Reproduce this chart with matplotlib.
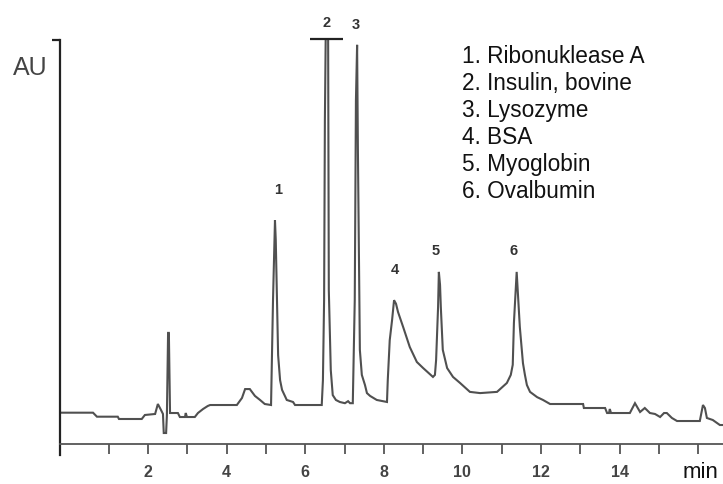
import matplotlib
matplotlib.use("Agg")
import matplotlib.pyplot as plt

# Chromatogram trace: retention time (min) and signal (AU, arbitrary 0-100 scale)
time_min = [-0.24, 0.60, 0.70, 1.23, 1.26, 1.84, 1.92, 2.18, 2.25, 2.33, 2.38, 2.40, 2.46, 2.48,
            2.51, 2.53, 2.56, 2.76, 2.81, 2.94, 2.96, 2.99, 3.19, 3.27, 3.40, 3.52, 3.58, 4.26,
            4.39, 4.47, 4.59, 4.72, 4.85, 4.97, 5.13, 5.18, 5.23, 5.25, 5.28, 5.31, 5.36, 5.41,
            5.53, 5.69, 5.74, 6.42, 6.45, 6.48, 6.50, 6.53, 6.58, 6.60, 6.63, 6.65, 6.70, 6.78,
            6.88, 7.01, 7.09, 7.14, 7.21, 7.26, 7.29, 7.32, 7.34, 7.37, 7.39, 7.44, 7.52, 7.57,
            7.65, 7.82, 8.08, 8.10, 8.15, 8.21, 8.26, 8.31, 8.36, 8.49, 8.66, 8.84, 9.00, 9.25,
            9.30, 9.33, 9.38, 9.40, 9.43, 9.45, 9.50, 9.61, 9.76, 9.94, 10.19, 10.45, 10.88,
            11.13, 11.23, 11.28, 11.31, 11.36, 11.38, 11.41, 11.46, 11.54, 11.59, 11.64, 11.72,
            11.90, 12.05, 12.23, 13.07, 13.09, 13.63, 13.68, 13.73, 13.75, 13.78, 14.26, 14.39,
            14.52, 14.64, 14.77, 14.90, 15.03, 15.13, 15.20, 15.33, 15.46, 16.04, 16.12, 16.17,
            16.22, 16.37, 16.55, 16.63]
signal_au = [7.75, 7.75, 6.76, 6.76, 6.19, 6.19, 7.18, 7.43, 9.90, 8.42, 7.43, 2.72, 2.72, 7.18,
             27.5, 27.5, 7.67, 7.67, 6.68, 6.68, 7.67, 6.68, 6.68, 7.67, 8.66, 9.41, 9.65, 9.65,
             11.39, 13.6, 13.6, 11.9, 10.9, 9.90, 9.65, 35.6, 55.4, 50.5, 35.6, 22.0, 15.8, 13.4,
             10.9, 10.4, 9.65, 9.65, 15.8, 35.6, 80.2, 110.0, 110.0, 38.1, 25.7, 18.3, 12.1, 10.9,
             10.4, 10.1, 10.6, 10.1, 10.1, 35.6, 85.1, 98.8, 72.8, 43.8, 23.3, 17.1, 14.6, 12.6,
             11.9, 10.9, 10.4, 15.8, 25.7, 30.7, 35.6, 34.7, 32.7, 29.0, 24.0, 20.3, 18.8, 16.6,
             17.1, 20.8, 33.9, 42.6, 39.4, 33.9, 23.3, 18.8, 16.6, 15.1, 12.9, 12.6, 12.9,
             15.1, 17.1, 19.6, 30.0, 38.9, 42.6, 37.4, 29.0, 20.0, 17.1, 14.6, 12.9,
             11.6, 10.9, 9.90, 9.90, 8.91, 8.91, 7.67, 7.67, 8.66, 7.67, 7.67, 10.1,
             7.92, 8.91, 7.67, 7.43, 6.68, 7.67, 7.67, 6.44, 5.69, 5.69, 9.65, 8.91,
             6.44, 5.94, 4.70, 4.70]

# Peak annotations
peak_labels = ["1", "2", "3", "4", "5", "6"]
peak_label_t = [5.31, 6.53, 7.29, 8.28, 9.33, 11.31]
peak_label_v = [62.9, 104.2, 103.7, 43.1, 47.8, 47.8]
offscale_peak_t = 6.53      # peak 2 runs off scale

legend_entries = ["1. Ribonuklease A", "2. Insulin, bovine", "3. Lysozyme",
                  "4. BSA", "5. Myoglobin", "6. Ovalbumin"]

x_ticks = list(range(1, 17))
x_tick_labels = ["", "2", "", "4", "", "6", "", "8", "", "10", "", "12", "", "14", "", ""]

plt.rcParams['font.family'] = ['Liberation Sans', 'DejaVu Sans']

W, H = 723, 484
fig = plt.figure(figsize=(W / 100, H / 100), dpi=100)
ax = fig.add_axes([60 / W, 40 / H, 663 / W, 404 / H])

trace_col = '#505050'
ax.plot(time_min, signal_au, color=trace_col, lw=1.5, solid_joinstyle='miter')

ax.set_xlim(-0.24, 16.63)
ax.set_ylim(0, 100)

# Off-scale bar over peak 2
ax.plot([offscale_peak_t - 0.42, offscale_peak_t + 0.42], [100.3, 100.3],
        color='#222222', lw=1.6, clip_on=False, solid_capstyle='butt')

for lab, t, v in zip(peak_labels, peak_label_t, peak_label_v):
    ax.text(t, v, lab, ha='center', va='center', fontsize=10.5, fontweight='bold',
            color='#333333', clip_on=False)

for i, entry in enumerate(legend_entries):
    ax.text(0.606, 0.942 - i * 0.0667, entry, transform=ax.transAxes, ha='left',
            va='baseline', fontsize=16.3, color='#111111')

# Spines
for s in ['top', 'right']:
    ax.spines[s].set_visible(False)
ax.spines['left'].set_color('#222222')
ax.spines['left'].set_linewidth(1.6)
ax.spines['left'].set_bounds(-2.7, 100)
ax.spines['bottom'].set_color('#555555')
ax.spines['bottom'].set_linewidth(1.3)

ax.set_yticks([100])
ax.set_yticklabels([])
ax.tick_params(axis='y', direction='out', length=6, width=1.6, color='#222222')

ax.set_xticks(x_ticks)
ax.set_xticklabels(x_tick_labels, fontsize=11.5, fontweight='bold', color='#444444')
ax.tick_params(axis='x', direction='out', length=7, width=1.3, color='#555555', pad=8)

fig.text(13 / W, 1 - 75 / H, "AU", fontsize=18, color='#444444', ha='left', va='baseline')
fig.text(683 / W, 1 - 478 / H, "min", fontsize=16, color='#111111', ha='left', va='baseline')

fig.savefig("out.png", dpi=100)
